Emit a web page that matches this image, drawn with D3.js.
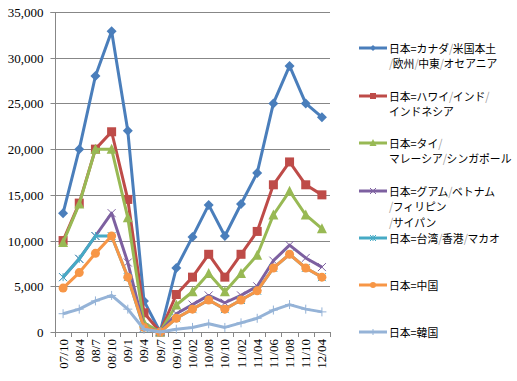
<!DOCTYPE html>
<html><head><meta charset="utf-8">
<script src="https://cdn.jsdelivr.net/npm/d3@7"></script>
<style>
html,body{margin:0;padding:0;background:#fff;}
svg{display:block;}
</style></head>
<body>
<script>
const categories = ["07/10","08/4","08/7","08/10","09/1","09/4","09/7","09/10","10/02","10/08","10/10","11/02","11/04","11/06","11/08","11/10","12/04"];
const yTicks = [0,5000,10000,15000,20000,25000,30000,35000];

const seriesNames = [
  ["日本=カナダ/米国本土","/欧州/中東/オセアニア"],
  ["日本=ハワイ/インド/","インドネシア"],
  ["日本=タイ/","マレーシア/シンガポール"],
  ["日本=グアム/ベトナム","/フィリピン","/サイパン"],
  ["日本=台湾/香港/マカオ"],
  ["日本=中国"],
  ["日本=韓国"]
];
const canadaUS   = [13000,20000,28000,32900,22000,3400,0,7000,10400,13900,10500,14000,17400,25000,29100,25000,23500];
const hawaiiIndia= [10000,14100,20000,21900,14500,2100,0,4100,6000,8500,6000,8500,11000,16100,18600,16100,15000];
const thaiMalay  = [9800,14000,20000,20000,12500,1000,0,2950,4400,6400,4400,6400,8400,12800,15400,12800,11300];
const guamVietnam= [6000,8000,10500,13000,7600,500,0,2000,3000,4000,3200,4000,5000,7800,9500,8100,7100];
const taiwanHK   = [6000,8000,10500,10500,6000,400,0,1500,2500,3500,2500,3500,4500,7000,8500,7000,6000];
const china      = [4800,6500,8600,10500,6000,500,0,1500,2500,3500,2500,3500,4500,7000,8500,7000,6000];
const korea      = [2000,2500,3400,4000,2500,300,0,300,500,900,500,1000,1500,2400,3000,2500,2200];

const allValues = [canadaUS,hawaiiIndia,thaiMalay,guamVietnam,taiwanHK,china,korea];
const colors = ["#4a7ebb","#be4b48","#98b954","#7d60a0","#46aac5","#f79646","#95b3d7"];
const markers = ["diamond","square","triangle","x","asterisk","circle","plus"];

const W=517,H=381;
const svg=d3.select("body").append("svg").attr("width",W).attr("height",H);
const L=55,R=330,T=12,B=332;

const x=d3.scaleBand().domain(categories).range([L,R]);
const y=d3.scaleLinear().domain([0,35000]).range([B,T]);

// gridlines
svg.append("g").selectAll("line").data(yTicks.filter(d=>d>0)).join("line")
  .attr("x1",L).attr("x2",R).attr("y1",d=>Math.round(y(d))+0.5).attr("y2",d=>Math.round(y(d))+0.5)
  .attr("stroke","#878787").attr("stroke-width",1);

// y axis
const yAxis=d3.axisLeft(y).tickValues(yTicks).tickSize(5).tickPadding(7).tickFormat(d3.format(","));
const ga=svg.append("g").attr("transform",`translate(${L+0.5},0.5)`).call(yAxis);
ga.select(".domain").attr("stroke","#878787").attr("d",`M-5,${T}H0V${B}`);
ga.selectAll(".tick line").attr("stroke","#878787");
ga.selectAll(".tick text").attr("font-family","Liberation Serif, Times New Roman, serif").attr("font-size","13px").attr("fill","#000");
ga.selectAll(".tick").attr("transform",d=>`translate(0,${Math.round(y(d))})`);

// x axis
svg.append("line").attr("x1",L).attr("x2",R).attr("y1",B+0.5).attr("y2",B+0.5).attr("stroke","#878787");
const bounds=categories.map(c=>x(c)).concat([R]);
svg.append("g").selectAll("line").data(bounds).join("line")
  .attr("x1",d=>Math.round(d)+0.5).attr("x2",d=>Math.round(d)+0.5).attr("y1",B).attr("y2",B+5)
  .attr("stroke","#878787");
svg.append("g").selectAll("text").data(categories).join("text")
  .attr("transform",d=>`translate(${x(d)+x.bandwidth()/2+4.5},${B+7}) rotate(-90)`)
  .attr("text-anchor","end")
  .attr("font-family","Liberation Serif, Times New Roman, serif").attr("font-size","13px")
  .text(d=>d);

const line=d3.line().x((d,i)=>x(categories[i])+x.bandwidth()/2).y(d=>y(d));

function marker(g,type,color,cx,cy,s){
  if(type==="diamond"){
    g.append("path").attr("d",`M${cx},${cy-s}L${cx+s},${cy}L${cx},${cy+s}L${cx-s},${cy}Z`).attr("fill",color);
  }else if(type==="square"){
    g.append("rect").attr("x",cx-s).attr("y",cy-s).attr("width",2*s).attr("height",2*s).attr("fill",color);
  }else if(type==="triangle"){
    g.append("path").attr("d",`M${cx},${cy-s-1}L${cx+s+0.5},${cy+s}L${cx-s-0.5},${cy+s}Z`).attr("fill",color);
  }else if(type==="circle"){
    g.append("circle").attr("cx",cx).attr("cy",cy).attr("r",s).attr("fill",color);
  }else if(type==="x"){
    g.append("path").attr("d",`M${cx-s},${cy-s}L${cx+s},${cy+s}M${cx-s},${cy+s}L${cx+s},${cy-s}`).attr("stroke",color).attr("stroke-width",1);
  }else if(type==="asterisk"){
    g.append("path").attr("d",`M${cx-s},${cy-s}L${cx+s},${cy+s}M${cx-s},${cy+s}L${cx+s},${cy-s}M${cx},${cy-s}L${cx},${cy+s}`).attr("stroke",color).attr("stroke-width",1);
  }else if(type==="plus"){
    g.append("path").attr("d",`M${cx-s},${cy}L${cx+s},${cy}M${cx},${cy-s}L${cx},${cy+s}`).attr("stroke",color).attr("stroke-width",1);
  }
}
const msize={diamond:5,square:4.5,triangle:4.5,x:4,asterisk:4,circle:4.5,plus:4.5};

allValues.forEach((vals,si)=>{
  const g=svg.append("g");
  g.append("path").datum(vals).attr("d",line).attr("fill","none").attr("stroke",colors[si]).attr("stroke-width",3).attr("stroke-linejoin","round");
  vals.forEach((v,i)=>marker(g,markers[si],colors[si],x(categories[i])+x.bandwidth()/2,y(v),msize[markers[si]]));
});

// legend
const legY=[48,96,143,191,238,285,332];
const lg=svg.append("g");
const maxW=124, LX=389;
seriesNames.forEach((lines,si)=>{
  const cy=legY[si];
  lg.append("line").attr("x1",359).attr("x2",387).attr("y1",cy).attr("y2",cy).attr("stroke",colors[si]).attr("stroke-width",3);
  marker(lg,markers[si],colors[si],373,cy,3);
  lines.forEach((t,li)=>{
    const row=lg.append("g");
    let cx=0;
    const parts=t.split(/(\/)/).filter(p=>p!=="");
    const items=[];
    parts.forEach(part=>{
      const te=row.append("text").attr("x",cx).attr("y",0)
        .attr("font-family","Noto Sans CJK JP, sans-serif").attr("font-size","11.5px")
        .attr("fill",part==="/"?"#a0a0a0":"#000").text(part);
      const w=te.node().getComputedTextLength();
      cx+= part==="/" ? w-0.5 : w;
      items.push(te);
    });
    const k=Math.min(0.94, maxW/cx);
    row.attr("transform",`translate(${LX},${cy+li*15.5+4.5}) scale(${k},1)`);
  });
});
</script>
</body></html>
